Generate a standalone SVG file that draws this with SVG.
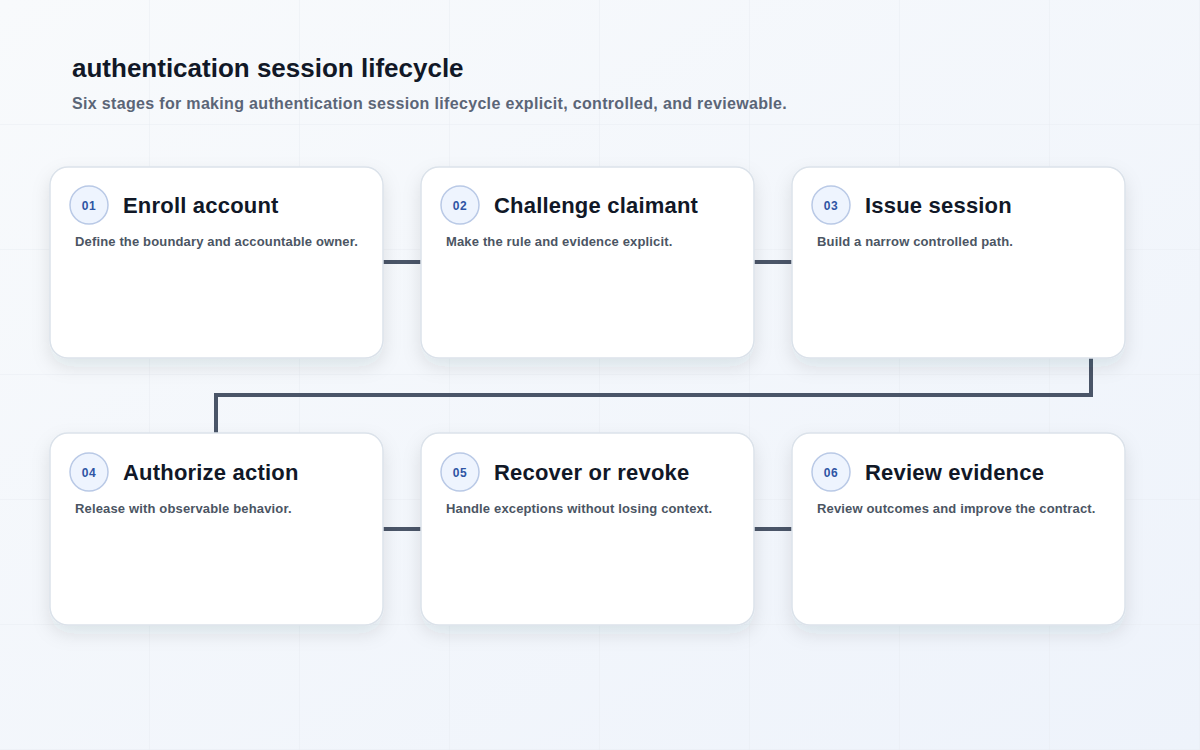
<svg xmlns="http://www.w3.org/2000/svg" width="1200" height="750" viewBox="0 0 1200 750">
<defs>
<linearGradient id="bg" x1="0" y1="0" x2="1" y2="1">
<stop offset="0" stop-color="#f8fafc"/>
<stop offset="1" stop-color="#eef3fb"/>
</linearGradient>
<pattern id="grid" width="150" height="125" patternUnits="userSpaceOnUse" x="0" y="0">
<path d="M150 0V125M0 125H150" fill="none" stroke="#e8ecf2" stroke-width="1"/>
</pattern>
<filter id="sh" x="-20%" y="-20%" width="140%" height="150%">
<feDropShadow dx="0" dy="8" stdDeviation="9" flood-color="#1e293b" flood-opacity="0.10"/>
</filter>
</defs>
<style>
.card{fill:#ffffff;stroke:#dbe2ea;stroke-width:1.5;filter:url(#sh)}
.badge{fill:#eef4fe;stroke:#b9c9e6;stroke-width:1.5}
.num{font-family:"Liberation Sans",Arial,sans-serif;font-size:12px;font-weight:700;fill:#2f55a4;text-anchor:middle;letter-spacing:0.5px}
.ttl{font-family:"Liberation Sans",Arial,sans-serif;font-size:22px;font-weight:700;fill:#111827;letter-spacing:0.2px}
.desc{font-family:"Liberation Sans",Arial,sans-serif;font-size:13px;font-weight:700;fill:#4b5563;letter-spacing:0.15px}
.conn{fill:none;stroke:#4a5568;stroke-width:4;stroke-linejoin:miter}
</style>
<rect width="1200" height="750" fill="url(#bg)"/>
<rect width="1200" height="750" fill="url(#grid)"/>
<text x="72" y="77" font-family="Liberation Sans,Arial,sans-serif" font-size="26" font-weight="700" fill="#111827">authentication session lifecycle</text>
<text x="72" y="109" font-family="Liberation Sans,Arial,sans-serif" font-size="16" font-weight="700" fill="#5b6577" letter-spacing="0.33">Six stages for making authentication session lifecycle explicit, controlled, and reviewable.</text>
<g id="connectors">
<path class="conn" d="M383 262H421"/>
<path class="conn" d="M754 262H792"/>
<path class="conn" d="M1091 358V395H216V433"/>
<path class="conn" d="M383 529H421"/>
<path class="conn" d="M754 529H792"/>
</g>
<g id="node1">
<rect class="card" x="50" y="167" width="333" height="191" rx="18"/>
<circle class="badge" cx="89" cy="205" r="19"/>
<text class="num" x="89" y="210">01</text>
<text class="ttl" x="123" y="213">Enroll account</text>
<text class="desc" x="75" y="246">Define the boundary and accountable owner.</text>
</g>
<g id="node2">
<rect class="card" x="421" y="167" width="333" height="191" rx="18"/>
<circle class="badge" cx="460" cy="205" r="19"/>
<text class="num" x="460" y="210">02</text>
<text class="ttl" x="494" y="213">Challenge claimant</text>
<text class="desc" x="446" y="246">Make the rule and evidence explicit.</text>
</g>
<g id="node3">
<rect class="card" x="792" y="167" width="333" height="191" rx="18"/>
<circle class="badge" cx="831" cy="205" r="19"/>
<text class="num" x="831" y="210">03</text>
<text class="ttl" x="865" y="213">Issue session</text>
<text class="desc" x="817" y="246">Build a narrow controlled path.</text>
</g>
<g id="node4">
<rect class="card" x="50" y="433" width="333" height="192" rx="18"/>
<circle class="badge" cx="89" cy="472" r="19"/>
<text class="num" x="89" y="477">04</text>
<text class="ttl" x="123" y="480">Authorize action</text>
<text class="desc" x="75" y="513">Release with observable behavior.</text>
</g>
<g id="node5">
<rect class="card" x="421" y="433" width="333" height="192" rx="18"/>
<circle class="badge" cx="460" cy="472" r="19"/>
<text class="num" x="460" y="477">05</text>
<text class="ttl" x="494" y="480">Recover or revoke</text>
<text class="desc" x="446" y="513">Handle exceptions without losing context.</text>
</g>
<g id="node6">
<rect class="card" x="792" y="433" width="333" height="192" rx="18"/>
<circle class="badge" cx="831" cy="472" r="19"/>
<text class="num" x="831" y="477">06</text>
<text class="ttl" x="865" y="480">Review evidence</text>
<text class="desc" x="817" y="513">Review outcomes and improve the contract.</text>
</g>
</svg>
